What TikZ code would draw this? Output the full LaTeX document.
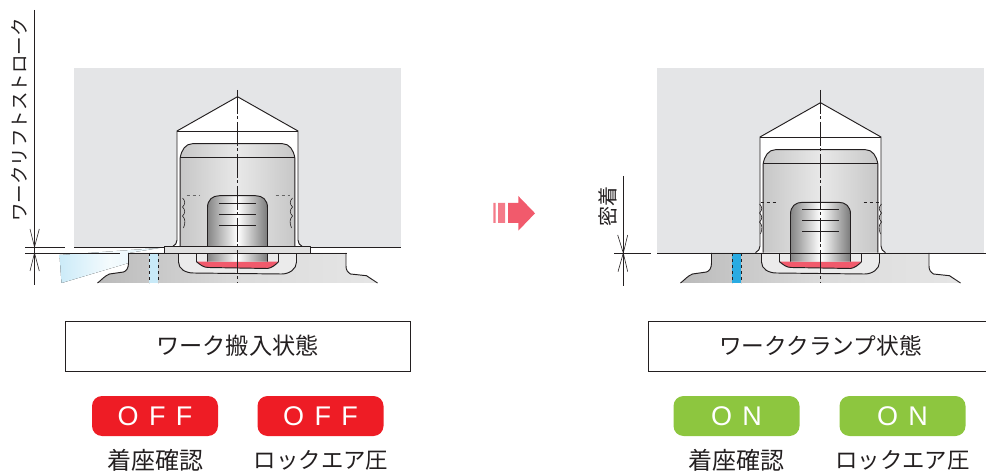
\documentclass[tikz,border=0pt]{standalone}
\usepackage{fontspec}
\setmainfont{Noto Sans CJK JP}
\setsansfont{Liberation Sans}
\definecolor{workgray}{HTML}{E4E5E7}
\definecolor{offred}{HTML}{EE1C25}
\definecolor{ongreen}{HTML}{8DC63F}
\definecolor{sealred}{HTML}{F15A6C}
\definecolor{airblue}{HTML}{29ABE2}
\definecolor{lineblack}{HTML}{231F20}
\tikzset{
  part/.style={draw=lineblack,line width=0.95pt,line join=round},
  thinline/.style={draw=lineblack,line width=0.6pt},
  centerline/.style={draw=lineblack,line width=0.7pt,dash pattern=on 24pt off 2.5pt on 3pt off 2.5pt},
  lamp/.style={rounded corners=10pt,minimum width=126pt,minimum height=40pt,inner sep=0pt,text=white,font=\sffamily\fontsize{27}{27}\selectfont},
  statebox/.style={draw=lineblack,line width=0.7pt,minimum width=345pt,minimum height=50pt,inner sep=0pt,text=lineblack},
  caption/.style={inner sep=0pt,text=lineblack},
  dimtext/.style={inner sep=0pt,rotate=90,text=lineblack}
}
% base of the clamp, x relative to the centre
\newcommand{\clampbase}{
  \path[left color=black!27,right color=black!10,middle color=black!14]
    (-109,253) -- (-109,263) .. controls (-109,268) and (-111,271) .. (-114,272)
    -- (-128,274) .. controls (-133,276) and (-136,280) .. (-140,283) -- (140,283)
    -- (129,275.7) -- (113,274)
    .. controls (110,272) and (108.5,270) .. (108.5,266) -- (108.5,253) -- cycle;
  \draw[part] (-140,283) .. controls (-136,280) and (-133,276) .. (-128,274) -- (-114,272)
    .. controls (-111,271) and (-109,268) .. (-109,263) -- (-109,253);
  \draw[part] (140,283) -- (129,275.7) -- (113,274)
    .. controls (110,272) and (108.5,270) .. (108.5,266) -- (108.5,253);
  % pocket
  \path[fill=black!8] (-59,253) -- (-59,262) .. controls (-59,269) and (-52,273) .. (-44,273)
    -- (44,274) .. controls (52,274) and (59,269) .. (59,262) -- (59,253) -- cycle;
  \draw[part] (-59,253) -- (-59,262) .. controls (-59,269) and (-52,273) .. (-44,273)
    -- (44,274) .. controls (52,274) and (59,269) .. (59,262) -- (59,253);
  \fill[sealred] (-41,261.7) .. controls (-37,265) and (-34,267.5) .. (-29,267.5)
    -- (30,268.5) .. controls (34,268) and (38,265) .. (41,261.7) -- cycle;
  \draw[part] (-41,253) -- (-41,261.7) .. controls (-37,265) and (-34,267.5) .. (-29,267.5)
    -- (30,268.5) .. controls (34,268) and (38,265) .. (41,261.7) -- (41,253);
}
% housing, #1 = shift of the work in y
\newcommand{\clampwork}[1]{
  \begin{scope}[yshift=-#1pt]
    \path[fill=white,draw=lineblack,line width=0.95pt,line join=round]
      (-65,246.7) .. controls (-62,245) and (-60.5,243) .. (-60.5,240) -- (-60.5,131) -- (0,96.7)
      -- (60.5,131) -- (60.5,240) .. controls (60.5,243) and (62,245) .. (65,246.7);
    \draw[part] (-60.5,131) -- (60.5,131);
    \path[left color=black!22,right color=black!22,middle color=black!9]
      (-57.3,246.7) -- (-57.3,157.7) .. controls (-56,150) and (-52,143.7) .. (-45,143.7)
      -- (45,143.7) .. controls (52,143.7) and (56,150) .. (57.3,157.7) -- (57.3,246.7) -- cycle;
    \draw[part] (-57.3,246.7) -- (-57.3,157.7) .. controls (-56,150) and (-52,143.7) .. (-45,143.7)
      -- (45,143.7) .. controls (52,143.7) and (56,150) .. (57.3,157.7) -- (57.3,246.7);
    \draw[part] (-57.3,157.7) -- (57.3,157.7);
  \end{scope}
}
\newcommand{\clamppin}[1]{
  \path[left color=black!48,right color=black!52,middle color=white]
    (-30,261.7) -- (-30,#1+12) .. controls (-30,#1+4) and (-25,#1) .. (-18,#1)
    -- (18,#1) .. controls (25,#1) and (30,#1+4) .. (30,#1+12) -- (30,261.7) -- cycle;
  \draw[part] (-30,261.7) -- (-30,#1+12) .. controls (-30,#1+4) and (-25,#1) .. (-18,#1)
    -- (18,#1) .. controls (25,#1) and (30,#1+4) .. (30,#1+12) -- (30,261.7);
  \foreach \lineoff in {7.3,18.3,29.3}
    \draw[part] (-18.3,#1+\lineoff) -- (18.5,#1+\lineoff);
}
% waved thread outline, #1 = x, #2 = sign, #3 = top
\newcommand{\clampthread}[3]{
  \draw[thinline] (#1,#3) .. controls (#1+#2*3,#3+3) and (#1+#2*3,#3+6) .. (#1,#3+9)
    .. controls (#1+#2*3,#3+12) and (#1+#2*3,#3+15) .. (#1,#3+18)
    .. controls (#1+#2*3,#3+21) and (#1+#2*3,#3+25) .. (#1+#2*1,#3+30);
}
\begin{document}
\begin{tikzpicture}[x=1pt,y=-1pt]
\useasboundingbox (0,0) rectangle (986,473);
% left state
\fill[workgray] (74,68) rectangle (401,247);
\begin{scope}[xshift=237.5pt]
  \fill[left color=airblue!24,right color=airblue!14,middle color=airblue!5]
    (-178,255) -- (-176,283) -- (-109,263) -- (-109,253) -- (-78,248) -- cycle;
  \clampbase
  \clampwork{0}
  \clamppin{195.7}
  \draw[part,fill=black!12] (-73.5,246.7) rectangle (73.2,253);
  \fill[airblue!25] (-88.5,253.5) rectangle (-79.5,283);
  \draw[thinline,dashed] (-88.5,253) -- (-88.5,283) (-79.5,253) -- (-79.5,283);
  \draw[thinline,dashed,draw=black!60] (-51,195.7) -- (-38,195.7) (38,195.7) -- (52,195.7);
  \clampthread{-55}{1}{198}
  \clampthread{55}{-1}{198}
  \draw[centerline] (0,90) -- (0,283);
\end{scope}
\draw[part] (74,247) -- (164,247) (311,247) -- (401,247);
\draw[part] (129,253) -- (347,253);
\draw[part] (25,247) -- (65,247) (25,253) -- (120,253);
\coordinate (liftA) at (34.5,247);
\coordinate (liftB) at (34.5,253);
\draw[thinline] (34.5,10) -- (34.5,285);
\draw[thinline] (30,229) -- (liftA) -- (39.3,229) (30,271) -- (liftB) -- (39.3,271);
\node[dimtext,font=\fontsize{18.5}{20}\selectfont] (lifttext) at (19,120) {ワークリフトストローク};
% arrow between states
\fill[sealred!80] (493.3,203) rectangle (495.7,223) (498,203) rectangle (505,223);
\fill[sealred] (508,203) -- (518.3,203) -- (518.3,196) -- (535,213.3) -- (518.3,230.7) -- (518.3,223) -- (508,223) -- cycle;
% right state
\fill[workgray] (657,68) rectangle (984,253);
\begin{scope}[xshift=820.5pt]
  \clampbase
  \clampwork{6}
  \clamppin{202.3}
  \fill[airblue] (-88.5,253.5) rectangle (-79.5,283);
  \draw[thinline,dashed] (-88.5,253) -- (-88.5,283) (-79.5,253) -- (-79.5,283);
  \draw[thinline,dashed] (-60,202.3) -- (-43,202.3) (43,202.3) -- (60,202.3);
  \clampthread{-61}{1}{204}
  \clampthread{61}{-1}{204}
  \draw[centerline] (0,90) -- (0,283);
\end{scope}
\draw[part] (657,253) -- (986,253);
\coordinate (sealA) at (623.3,253);
\draw[thinline] (623.3,176) -- (623.3,285.7);
\draw[part] (614,253) -- (651,253);
\draw[thinline] (617.7,235) -- (sealA) -- (627.7,235) (618,271.7) -- (sealA) -- (627.7,271.7);
\node[dimtext,font=\fontsize{20}{22}\selectfont] (sealtext) at (608,207) {密着};
% state boxes
\node[statebox,font=\fontsize{23.2}{25}\selectfont] (stateleft) at (237.5,346) {ワーク搬入状態};
\node[statebox,font=\fontsize{22.7}{25}\selectfont] (stateright) at (820.5,346) {ワーククランプ状態};
% lamps
\node[lamp,fill=offred] (lampa) at (155,416) {O\hspace{0.38em}F\hspace{0.38em}F};
\node[lamp,fill=offred] (lampb) at (320.5,416) {O\hspace{0.38em}F\hspace{0.38em}F};
\node[lamp,fill=ongreen] (lampc) at (736.5,416) {O\hspace{0.38em}N};
\node[lamp,fill=ongreen] (lampd) at (902.5,416) {O\hspace{0.38em}N};
\node[caption,font=\fontsize{24}{26}\selectfont] (seatleft) at (155,460) {着座確認};
\node[caption,font=\fontsize{22.4}{26}\selectfont] (lockleft) at (321,460) {ロックエア圧};
\node[caption,font=\fontsize{24}{26}\selectfont] (seatright) at (736.5,460) {着座確認};
\node[caption,font=\fontsize{22.4}{26}\selectfont] (lockright) at (902.5,460) {ロックエア圧};
\end{tikzpicture}
\end{document}
